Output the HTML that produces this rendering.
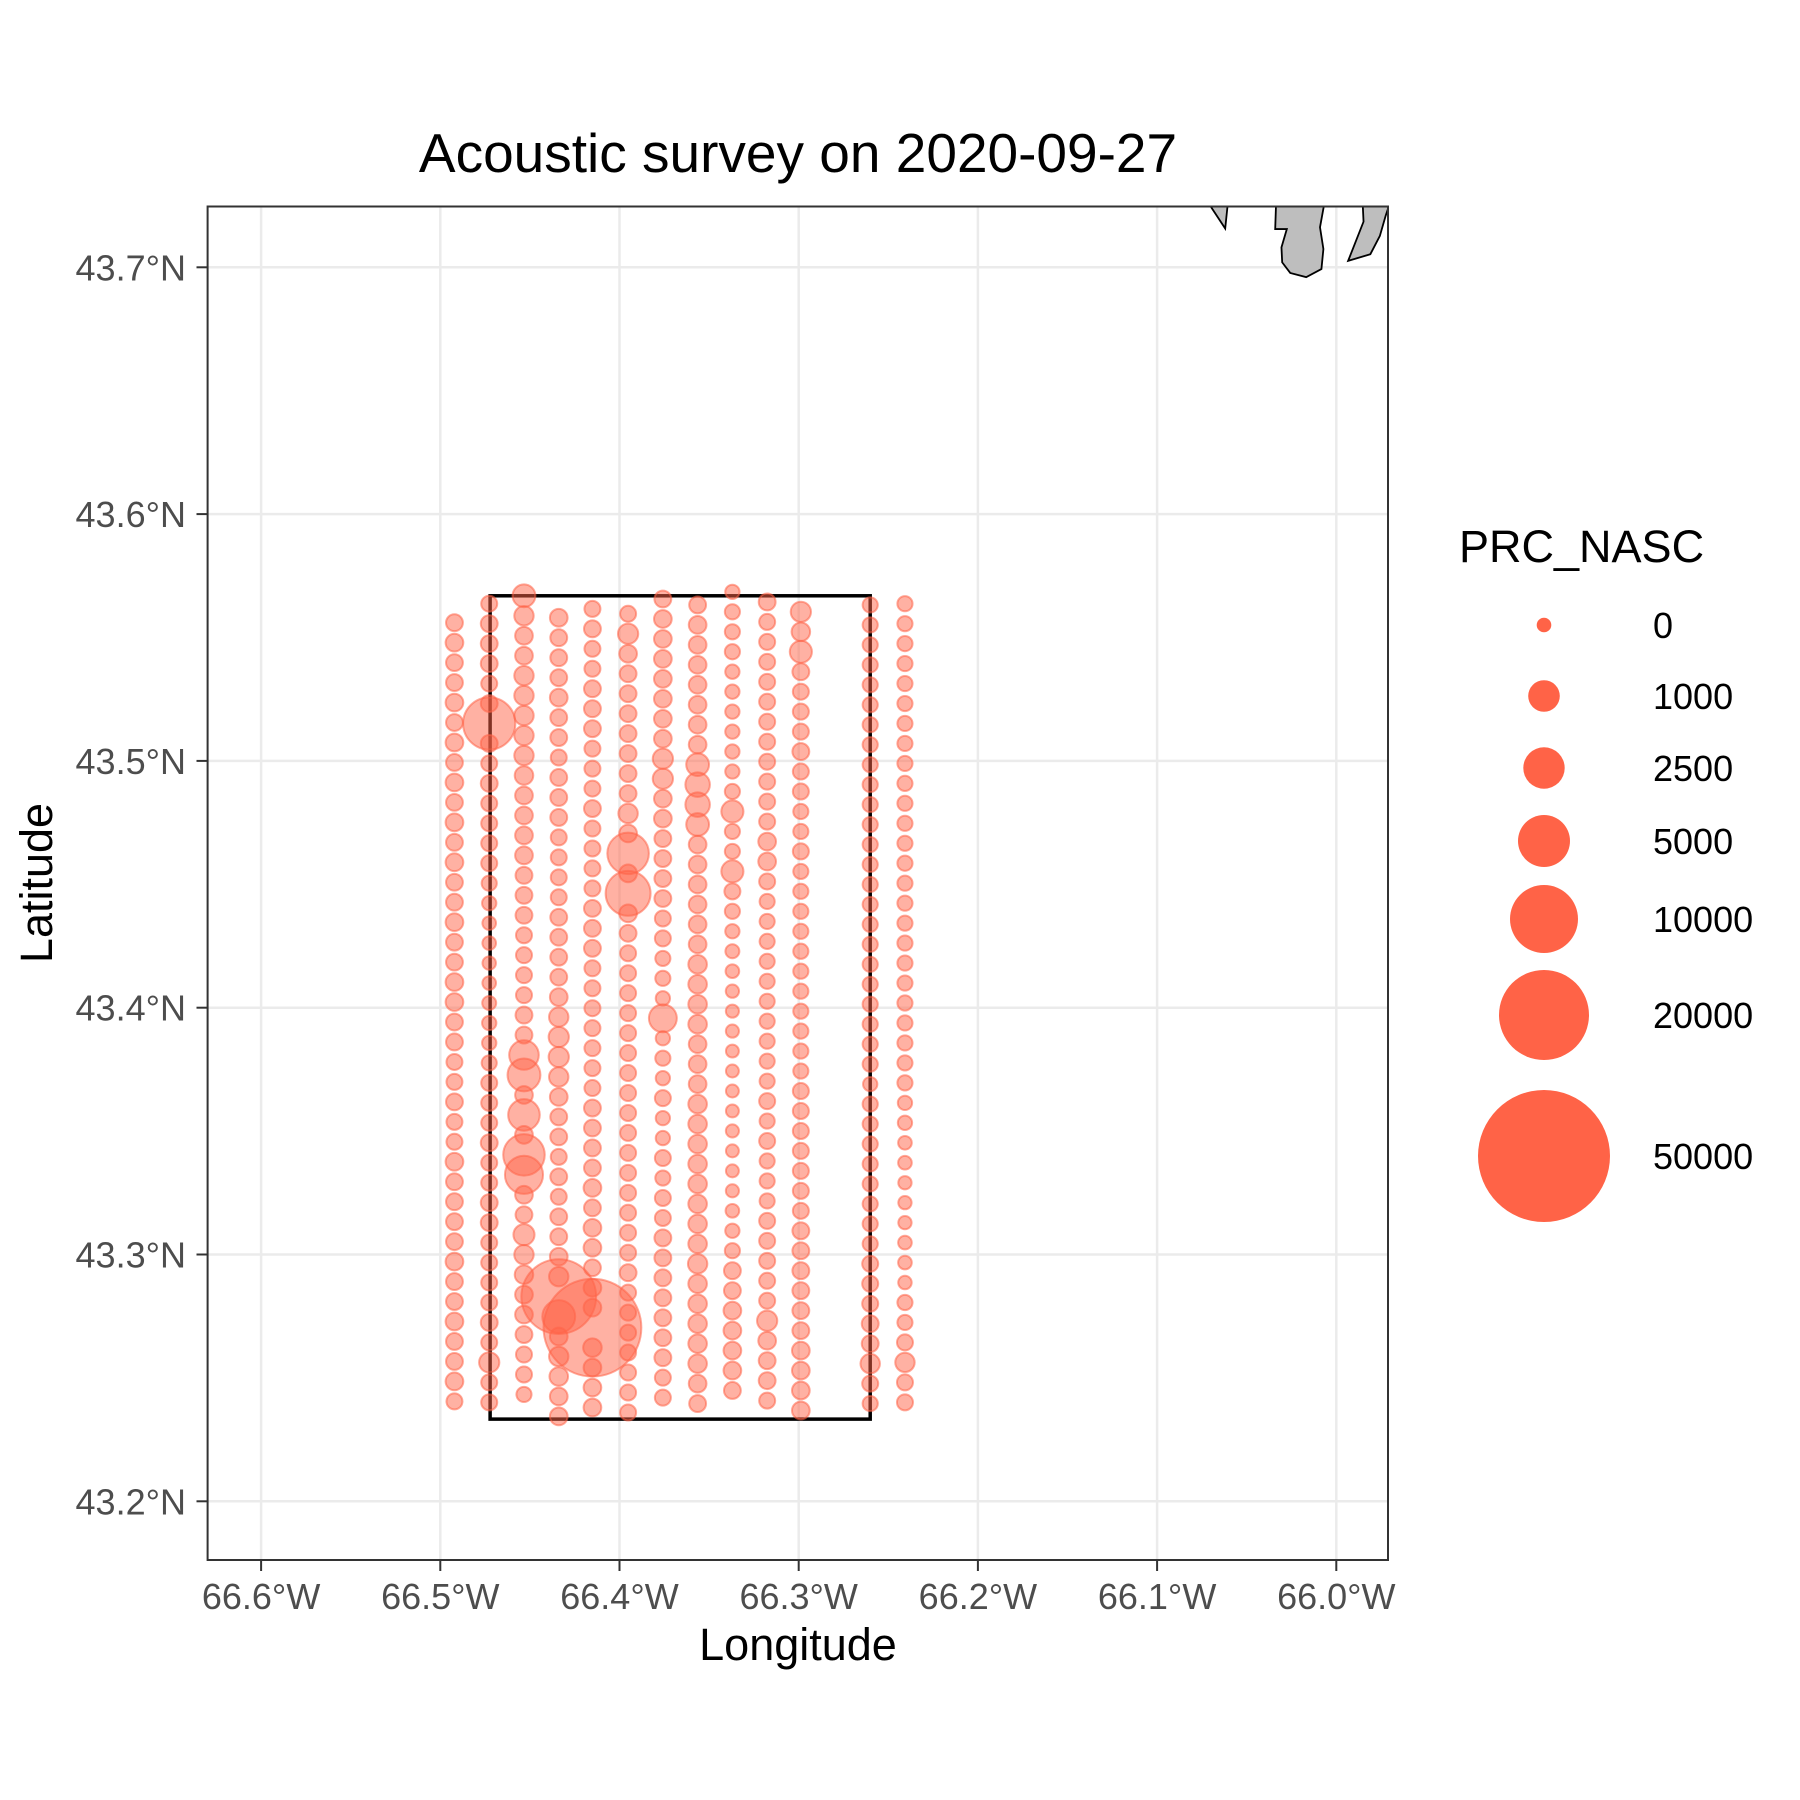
<!DOCTYPE html>
<html><head><meta charset="utf-8">
<style>
html,body{margin:0;padding:0;background:#fff;}
svg{display:block;font-family:"Liberation Sans",Arial,sans-serif;}
</style></head>
<body>
<svg id="chart" width="1800" height="1800" viewBox="0 0 1800 1800" xmlns="http://www.w3.org/2000/svg">
<defs><clipPath id="panelClip"><rect x="207.6" y="206.5" width="1180.4" height="1353.5"/></clipPath></defs>
<rect x="0" y="0" width="1800" height="1800" fill="#fff"/>
<text x="798" y="172" text-anchor="middle" font-size="55" fill="#000">Acoustic survey on 2020-09-27</text>
<g id="grid"></g>
<g id="land" clip-path="url(#panelClip)"></g>
<g id="box"></g>
<g id="pts"></g>
<rect x="207.6" y="206.5" width="1180.4" height="1353.5" fill="none" stroke="#333" stroke-width="2"/>
<g id="axes"></g>
<text x="798" y="1660" text-anchor="middle" font-size="45" fill="#000">Longitude</text>
<text x="0" y="0" transform="translate(52,883) rotate(-90)" text-anchor="middle" font-size="45" fill="#000">Latitude</text>
<text x="1459" y="562" font-size="45" fill="#000">PRC_NASC</text>
<g id="legend"></g>
</svg>
<script>
const lonTicks = [-66.6,-66.5,-66.4,-66.3,-66.2,-66.1,-66.0];
const lonLabels = ["66.6°W","66.5°W","66.4°W","66.3°W","66.2°W","66.1°W","66.0°W"];
const latTicks = [43.2,43.3,43.4,43.5,43.6,43.7];
const latLabels = ["43.2°N","43.3°N","43.4°N","43.5°N","43.6°N","43.7°N"];
const legendBreaks = [0,1000,2500,5000,10000,20000,50000];
const legendLabels = ["0","1000","2500","5000","10000","20000","50000"];
const boxLon = [-66.4722,-66.2601];
const boxLat = [43.2333,43.5669];
const latStep = 0.00809;
const colLon = [-66.4921,-66.4727,-66.4533,-66.4339,-66.4151,-66.3952,-66.3758,-66.3564,-66.3370,-66.3176,-66.2988,-66.2601,-66.2407];
const colTop = [43.5560,43.5637,43.5669,43.5580,43.5616,43.5596,43.5656,43.5632,43.5685,43.5644,43.5604,43.5632,43.5637];
const c1 = [250,300,250,250,300,250,300,250,300,250,300,250,300,250,250,300,250,250,300,300,250,250,200,200,250,200,200,300,250,250,250,250,300,250,250,300,250,250,300,200];
const c2 = [200,250,250,250,200,250,5700,250,200,250,200,200,200,200,150,100,60,60,50,60,80,100,100,150,200,200,200,250,200,200,250,250,200,200,200,200,250,200,450,200,200];
const c3 = [600,400,300,300,400,400,400,400,400,350,300,300,300,300,250,250,250,200,200,200,200,250,250,1000,1500,300,1300,300,3000,2300,300,250,500,400,350,300,300,250,200,200,150];
const c4 = [300,250,250,250,300,250,250,200,250,250,250,200,200,200,200,250,250,250,250,300,400,450,450,400,300,250,250,200,250,200,250,250,300,400,14000,1500,300,400,350,300,300];
const c5 = [200,250,200,200,250,250,250,200,200,200,250,200,200,200,200,250,250,250,200,200,200,200,200,200,200,250,250,250,250,300,250,300,300,250,300,300,27000,350,300,300,300];
const c6 = [200,450,300,250,250,250,250,250,250,250,400,300,3000,300,3800,300,250,200,200,200,200,200,200,200,200,200,200,200,200,200,200,200,200,250,200,200,200,200,200,200,200];
const c7 = [250,300,300,300,300,300,300,300,450,450,300,300,250,250,250,250,200,200,150,150,100,900,100,150,100,200,100,100,200,150,200,200,250,250,250,250,250,250,250,200,200];
const c8 = [250,300,300,300,300,300,300,300,600,700,700,600,300,300,300,300,300,300,350,350,350,350,300,300,300,350,350,350,350,350,350,350,350,400,350,350,350,350,350,300,250];
const c9 = [100,150,150,150,100,100,100,100,100,100,150,560,150,150,560,200,150,100,80,60,40,30,30,20,20,20,20,30,20,20,30,60,100,150,250,250,300,300,300,300,250];
const c10 = [250,200,200,200,200,200,200,200,200,200,200,200,300,300,200,150,150,150,150,150,150,150,150,150,150,200,150,200,150,150,150,200,200,200,200,200,450,300,250,250,200];
const c11 = [450,350,560,250,200,200,200,250,200,200,150,150,200,150,150,150,150,150,150,150,150,150,150,150,200,200,200,200,200,200,200,250,250,250,250,250,250,300,300,300,300];
const c12 = [150,150,150,150,150,150,150,150,150,150,150,150,150,150,150,150,150,150,150,150,150,150,150,150,100,150,150,150,150,150,150,150,150,200,200,200,250,250,400,200,150];
const c13 = [150,150,150,150,150,150,150,150,150,150,150,150,150,150,150,150,150,150,150,150,150,150,150,150,150,100,100,60,60,40,40,40,60,60,50,150,150,200,400,200,200];
const columns = [c1,c2,c3,c4,c5,c6,c7,c8,c9,c10,c11,c12,c13];
const land1 = [[-66.0715,43.7262],[-66.0620,43.7157],[-66.0605,43.7262]];
const land2 = [[-66.0336,43.7262],[-66.0341,43.7155],[-66.0276,43.7155],[-66.0306,43.7081],[-66.0302,43.7020],[-66.0257,43.6977],[-66.0168,43.6960],[-66.0083,43.6993],[-66.0072,43.7074],[-66.0091,43.7162],[-66.0066,43.7262]];
const land3 = [[-65.9853,43.7262],[-65.9848,43.7185],[-65.9934,43.7026],[-65.9810,43.7053],[-65.9757,43.7127],[-65.9725,43.7208],[-65.9700,43.7262]];

const NS = "http://www.w3.org/2000/svg";
const legendR = [7.3,15.8,20.7,26,34,45,66];
function xS(lon){ return 619.5 + (lon + 66.4) * 1792; }
function yS(lat){ return 1501.3 - (lat - 43.2) * 2468; }
function rS(v){
  for (let i = 1; i < legendBreaks.length; i++) {
    if (v <= legendBreaks[i]) {
      const t = (v - legendBreaks[i-1]) / (legendBreaks[i] - legendBreaks[i-1]);
      return legendR[i-1] + t * (legendR[i] - legendR[i-1]);
    }
  }
  return legendR[legendR.length-1];
}
function mk(tag, attrs, parent){
  const e = document.createElementNS(NS, tag);
  for (const k in attrs) e.setAttribute(k, attrs[k]);
  parent.appendChild(e);
  return e;
}
const grid = document.getElementById('grid');
const axes = document.getElementById('axes');
lonTicks.forEach((lon, i) => {
  const x = xS(lon);
  const g = mk('line', {x1:x, x2:x, y1:206.5, y2:1560, stroke:'#ebebeb', 'stroke-width':2.5}, grid);
  
  
  const t = mk('line', {x1:x, x2:x, y1:1560, y2:1571, stroke:'#333', 'stroke-width':2}, axes);
  
  
  const l = mk('text', {x:x, y:1609, 'text-anchor':'middle', 'font-size':36, fill:'#4d4d4d'}, axes);
  l.textContent = lonLabels[i];
  
  
});
latTicks.forEach((lat, i) => {
  const y = yS(lat);
  const g = mk('line', {x1:207.6, x2:1388, y1:y, y2:y, stroke:'#ebebeb', 'stroke-width':2.5}, grid);
  
  
  const t = mk('line', {x1:196.5, x2:207.6, y1:y, y2:y, stroke:'#333', 'stroke-width':2}, axes);
  
  
  const l = mk('text', {x:186, y:y+13, 'text-anchor':'end', 'font-size':36, fill:'#4d4d4d'}, axes);
  l.textContent = latLabels[i];
  
  
});
const land = document.getElementById('land');
[land1, land2, land3].forEach(poly => {
  const p = mk('polygon', {points: poly.map(q => xS(q[0]) + ',' + yS(q[1])).join(' '), fill:'#bebebe', stroke:'#000', 'stroke-width':1.8}, land);
  
  
});
const box = document.getElementById('box');
const br = mk('rect', {x:xS(boxLon[0]), y:yS(boxLat[1]), width:xS(boxLon[1])-xS(boxLon[0]), height:yS(boxLat[0])-yS(boxLat[1]), fill:'none', stroke:'#000', 'stroke-width':3.5}, box);


const pts = document.getElementById('pts');
columns.forEach((vals, ci) => {
  vals.forEach((v, i) => {
    const lat = colTop[ci] - i * latStep;
    const c = mk('circle', {cx:xS(colLon[ci]), cy:yS(lat), r:Math.max(rS(v)-1,2), fill:'rgba(255,99,71,0.5)', stroke:'rgba(255,99,71,0.55)', 'stroke-width':2}, pts);
    
    
  });
});
const legend = document.getElementById('legend');
const legendY = [625,696,768,841,919,1015,1156];
legendBreaks.forEach((v, i) => {
  const c = mk('circle', {cx:1544, cy:legendY[i], r:rS(v), fill:'#ff6347'}, legend);
  
  
  const t = mk('text', {x:1653, y:legendY[i]+13, 'font-size':36, fill:'#000'}, legend);
  t.textContent = legendLabels[i];
  
  
});
</script>
</body></html>
